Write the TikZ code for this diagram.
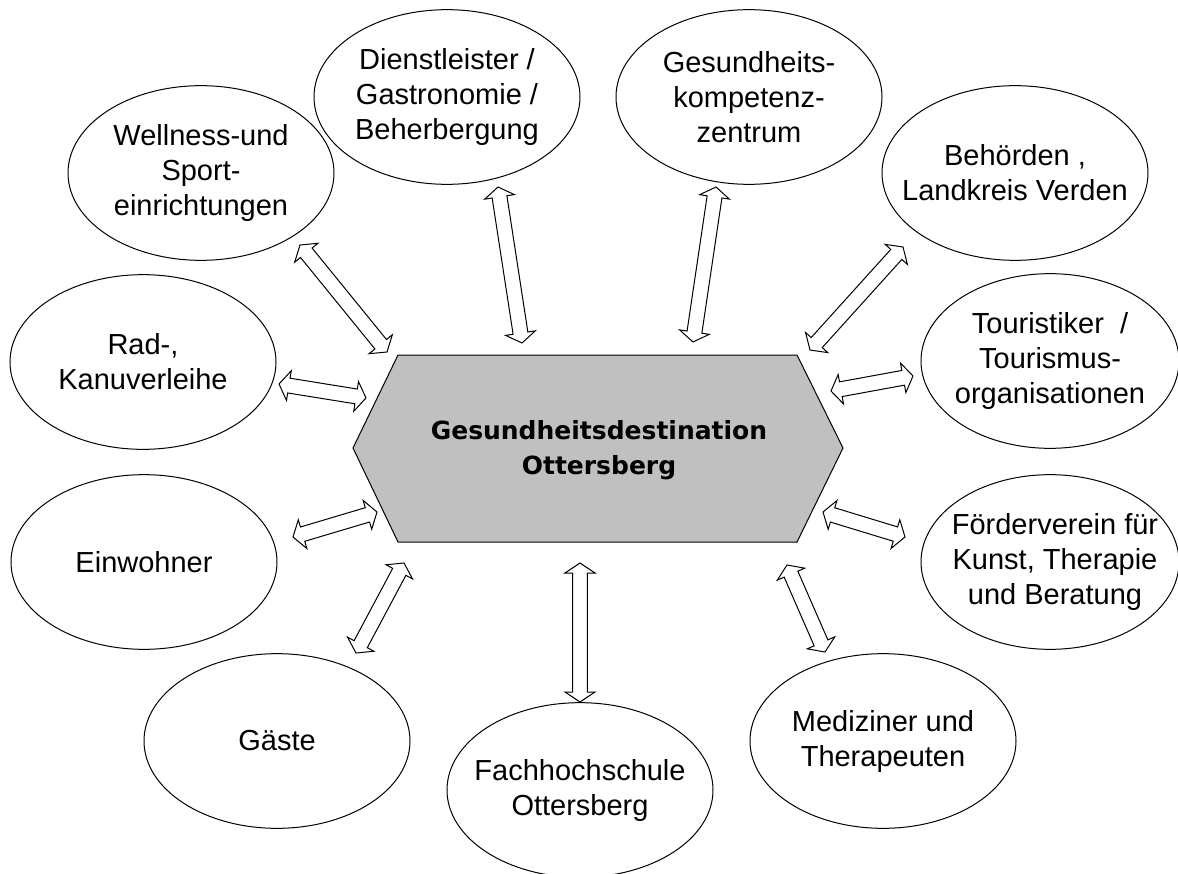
\documentclass[tikz,border=0pt]{standalone}
\usepackage{fontspec}
\setmainfont{Liberation Sans}
\newfontfamily\hexfont{DejaVu Sans}
\usetikzlibrary{calc,shapes.geometric}
\definecolor{hexgray}{HTML}{C0C0C0}
\newcommand{\bkarrow}[2]{%
  \path ($(#1)!7.5pt!(#2)$) coordinate (ba1) ($(#2)!7.5pt!(#1)$) coordinate (ba2);
  \draw[blockarr] (#1) -- ($(ba1)!11.25pt!90:(#2)$) -- ($(ba1)!5.6pt!90:(#2)$)
    -- ($(ba2)!5.6pt!-90:(#1)$) -- ($(ba2)!11.25pt!-90:(#1)$) -- (#2)
    -- ($(ba2)!11.25pt!90:(#1)$) -- ($(ba2)!5.6pt!90:(#1)$)
    -- ($(ba1)!5.6pt!-90:(#2)$) -- ($(ba1)!11.25pt!-90:(#2)$) -- cycle;}
\begin{document}
\begin{tikzpicture}[x=0.75pt,y=-0.75pt,
  ell/.style={ellipse,draw=black,line width=0.75pt,minimum width=199.5pt,minimum height=131pt,inner sep=0pt},
  lbl/.style={align=center,inner sep=0pt,font=\fontsize{21.75pt}{26.25pt}\selectfont},
  blockarr/.style={draw=black,fill=white,line width=0.75pt,line join=miter},
  hexshape/.style={draw=black,fill=hexgray,line width=0.75pt},
  hexlbl/.style={align=center,inner sep=0pt,font=\hexfont\bfseries\fontsize{18.75pt}{26.25pt}\selectfont}]
\useasboundingbox (0,0) rectangle (1178,874);
\fill[white] (0,0) rectangle (1178,874);

% central hexagon
\coordinate (h1) at (398,355);
\coordinate (h2) at (797,355);
\coordinate (h3) at (843,448);
\coordinate (h4) at (797,542);
\coordinate (h5) at (398,542);
\coordinate (h6) at (353,448);
\draw[hexshape] (h1) -- (h2) -- (h3) -- (h4) -- (h5) -- (h6) -- cycle;
\node[hexlbl] (center) at (599,450) {Gesundheitsdestination\\Ottersberg};

% ellipses
\node[ell] (well) at (201,173) {};
\node[lbl] at (well) {Wellness-und\\Sport-\\einrichtungen};
\node[ell] (dien) at (447,97) {};
\node[lbl] at (dien) {Dienstleister /\\Gastronomie /\\Beherbergung};
\node[ell] (gesu) at (749,97) {};
\node[lbl] at (gesu) {Gesundheits-\\kompetenz-\\zentrum};
\node[ell] (behoe) at (1015,173) {};
\node[lbl] at (behoe) {Behörden ,\\Landkreis Verden};
\node[ell] (rad) at (143,362) {};
\node[lbl] at (rad) {Rad-,\\Kanuverleihe};
\node[ell,minimum width=193.5pt] (tour) at (1050,361) {};
\node[lbl] at (tour) {Touristiker~~/\\Tourismus-\\organisationen};
\node[ell] (einw) at (144,562) {};
\node[lbl] at (einw) {Einwohner};
\node[ell,minimum width=193.5pt] (foerd) at (1050,562) {};
\node[lbl] at (1055,562) {Förderverein für\\Kunst, Therapie\\und Beratung};
\node[ell] (gaeste) at (277,741) {};
\node[lbl] at (gaeste) {Gäste};
\node[ell] (fach) at (580,790) {};
\node[lbl] at (fach) {Fachhochschule\\Ottersberg};
\node[ell] (medi) at (883,741) {};
\node[lbl] at (medi) {Mediziner und\\Therapeuten};

% arrow end points
\coordinate (aw1) at (300,245);  \coordinate (aw2) at (387,352);
\coordinate (ad1) at (498,187);  \coordinate (ad2) at (522,343);
\coordinate (ag1) at (716,187);  \coordinate (ag2) at (693,342);
\coordinate (ab1) at (903,247);  \coordinate (ab2) at (810,350);
\coordinate (ar1) at (279,384);  \coordinate (ar2) at (366,398);
\coordinate (at1) at (913,376);  \coordinate (at2) at (831,391);
\coordinate (ae1) at (293,537);  \coordinate (ae2) at (377,512);
\coordinate (af1) at (905,537);  \coordinate (af2) at (823,512);
\coordinate (aga1) at (356,653); \coordinate (aga2) at (404,563);
\coordinate (afh1) at (580,702); \coordinate (afh2) at (580,563);
\coordinate (am1) at (825,652);  \coordinate (am2) at (787,565);

\bkarrow{aw1}{aw2}
\bkarrow{ad1}{ad2}
\bkarrow{ag1}{ag2}
\bkarrow{ab1}{ab2}
\bkarrow{ar1}{ar2}
\bkarrow{at1}{at2}
\bkarrow{ae1}{ae2}
\bkarrow{af1}{af2}
\bkarrow{aga1}{aga2}
\bkarrow{afh1}{afh2}
\bkarrow{am1}{am2}
\end{tikzpicture}
\end{document}
